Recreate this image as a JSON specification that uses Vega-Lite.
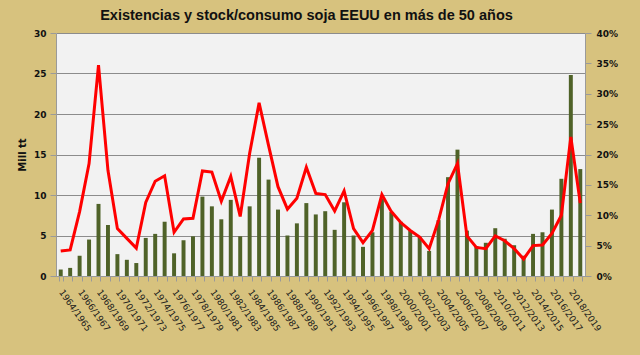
{
  "$schema": "https://vega.github.io/schema/vega-lite/v6.json",
  "autosize": {"type": "none"},
  "width": 529,
  "height": 243,
  "padding": {"left": 56, "top": 33, "right": 55, "bottom": 79},
  "background": "#d7c27e",
  "title": {
    "text": "Existencias y stock/consumo soja EEUU en más de 50 años",
    "font": "Liberation Sans",
    "fontWeight": "bold",
    "fontSize": 14.5,
    "color": "#111111",
    "anchor": "middle",
    "frame": "group",
    "dx": -14,
    "offset": 6
  },
  "config": {
    "view": {"fill": "#f2f2f2", "stroke": null},
    "axis": {"labelFont": "DejaVu Sans", "titleFont": "DejaVu Sans"}
  },
  "data": {
    "values": [
      {"campana": "1964/1965", "stock": 0.8, "ratio": 0.041},
      {"campana": "1965/1966", "stock": 1.0, "ratio": 0.043},
      {"campana": "1966/1967", "stock": 2.5, "ratio": 0.106},
      {"campana": "1967/1968", "stock": 4.5, "ratio": 0.185},
      {"campana": "1968/1969", "stock": 8.9, "ratio": 0.347},
      {"campana": "1969/1970", "stock": 6.3, "ratio": 0.174},
      {"campana": "1970/1971", "stock": 2.7, "ratio": 0.078},
      {"campana": "1971/1972", "stock": 2.0, "ratio": 0.062},
      {"campana": "1972/1973", "stock": 1.6, "ratio": 0.046},
      {"campana": "1973/1974", "stock": 4.7, "ratio": 0.121},
      {"campana": "1974/1975", "stock": 5.2, "ratio": 0.156},
      {"campana": "1975/1976", "stock": 6.7, "ratio": 0.165},
      {"campana": "1976/1977", "stock": 2.8, "ratio": 0.072},
      {"campana": "1977/1978", "stock": 4.4, "ratio": 0.094},
      {"campana": "1978/1979", "stock": 4.9, "ratio": 0.095},
      {"campana": "1979/1980", "stock": 9.8, "ratio": 0.173},
      {"campana": "1980/1981", "stock": 8.6, "ratio": 0.171},
      {"campana": "1981/1982", "stock": 7.0, "ratio": 0.123},
      {"campana": "1982/1983", "stock": 9.4, "ratio": 0.164},
      {"campana": "1983/1984", "stock": 4.9, "ratio": 0.098},
      {"campana": "1984/1985", "stock": 8.6, "ratio": 0.202},
      {"campana": "1985/1986", "stock": 14.6, "ratio": 0.285},
      {"campana": "1986/1987", "stock": 11.9, "ratio": 0.215},
      {"campana": "1987/1988", "stock": 8.2, "ratio": 0.147},
      {"campana": "1988/1989", "stock": 5.0, "ratio": 0.110},
      {"campana": "1989/1990", "stock": 6.5, "ratio": 0.128},
      {"campana": "1990/1991", "stock": 9.0, "ratio": 0.179},
      {"campana": "1991/1992", "stock": 7.6, "ratio": 0.136},
      {"campana": "1992/1993", "stock": 8.0, "ratio": 0.134},
      {"campana": "1993/1994", "stock": 5.7, "ratio": 0.107},
      {"campana": "1994/1995", "stock": 9.1, "ratio": 0.140},
      {"campana": "1995/1996", "stock": 5.0, "ratio": 0.078},
      {"campana": "1996/1997", "stock": 3.6, "ratio": 0.055},
      {"campana": "1997/1998", "stock": 5.4, "ratio": 0.075},
      {"campana": "1998/1999", "stock": 9.5, "ratio": 0.134},
      {"campana": "1999/2000", "stock": 7.9, "ratio": 0.106},
      {"campana": "2000/2001", "stock": 6.7, "ratio": 0.088},
      {"campana": "2001/2002", "stock": 5.6, "ratio": 0.075},
      {"campana": "2002/2003", "stock": 4.8, "ratio": 0.064},
      {"campana": "2003/2004", "stock": 3.1, "ratio": 0.045},
      {"campana": "2004/2005", "stock": 6.9, "ratio": 0.092},
      {"campana": "2005/2006", "stock": 12.2, "ratio": 0.152},
      {"campana": "2006/2007", "stock": 15.6, "ratio": 0.185},
      {"campana": "2007/2008", "stock": 5.6, "ratio": 0.066},
      {"campana": "2008/2009", "stock": 3.7, "ratio": 0.047},
      {"campana": "2009/2010", "stock": 4.1, "ratio": 0.045},
      {"campana": "2010/2011", "stock": 5.9, "ratio": 0.066},
      {"campana": "2011/2012", "stock": 4.6, "ratio": 0.058},
      {"campana": "2012/2013", "stock": 3.8, "ratio": 0.045},
      {"campana": "2013/2014", "stock": 2.5, "ratio": 0.028},
      {"campana": "2014/2015", "stock": 5.2, "ratio": 0.050},
      {"campana": "2015/2016", "stock": 5.4, "ratio": 0.051},
      {"campana": "2016/2017", "stock": 8.2, "ratio": 0.070},
      {"campana": "2017/2018", "stock": 12.0, "ratio": 0.100},
      {"campana": "2018/2019", "stock": 24.8, "ratio": 0.229},
      {"campana": "2019/2020", "stock": 13.2, "ratio": 0.120}
    ]
  },
  "encoding": {
    "x": {
      "field": "campana",
      "type": "ordinal",
      "sort": null,
      "scale": {"paddingInner": 0.58, "paddingOuter": 0.29},
      "axis": {
        "title": null,
        "labelExpr": "parseInt(substring(datum.value, 0, 4)) % 2 == 0 ? datum.value : ''",
        "labelAngle": 55,
        "labelAlign": "left",
        "labelBaseline": "middle",
        "labelPadding": 9,
        "labelFontSize": 9,
        "labelColor": "#1a1a1a",
        "labelOverlap": false,
        "tickBand": "extent",
        "tickColor": "#9a9a9a",
        "tickSize": 5,
        "domainColor": "#9a9a9a"
      }
    }
  },
  "layer": [
    {
      "mark": {"type": "bar", "color": "#4f6228"},
      "encoding": {
        "y": {
          "field": "stock",
          "type": "quantitative",
          "scale": {"domain": [0, 30]},
          "axis": {
            "title": "Mill tt",
            "titleFontSize": 10,
            "titleFontWeight": "bold",
            "titleColor": "#111111",
            "titlePadding": 6,
            "values": [0, 5, 10, 15, 20, 25, 30],
            "labelFontSize": 9,
            "labelFontWeight": "bold",
            "labelColor": "#111111",
            "labelPadding": 4,
            "tickColor": "#9a9a9a",
            "tickSize": 6,
            "domainColor": "#9a9a9a",
            "grid": true,
            "gridColor": "#8c8c8c",
            "gridWidth": 1
          }
        }
      }
    },
    {
      "mark": {"type": "line", "color": "#ff0000", "strokeWidth": 3},
      "encoding": {
        "y": {
          "field": "ratio",
          "type": "quantitative",
          "scale": {"domain": [0, 0.4]},
          "axis": {
            "orient": "right",
            "title": null,
            "format": ".0%",
            "values": [0, 0.05, 0.1, 0.15, 0.2, 0.25, 0.3, 0.35, 0.4],
            "labelFontSize": 9,
            "labelFontWeight": "bold",
            "labelColor": "#111111",
            "labelPadding": 5,
            "tickColor": "#9a9a9a",
            "tickSize": 6,
            "domainColor": "#9a9a9a",
            "grid": false
          }
        }
      }
    }
  ],
  "resolve": {"scale": {"y": "independent"}}
}
